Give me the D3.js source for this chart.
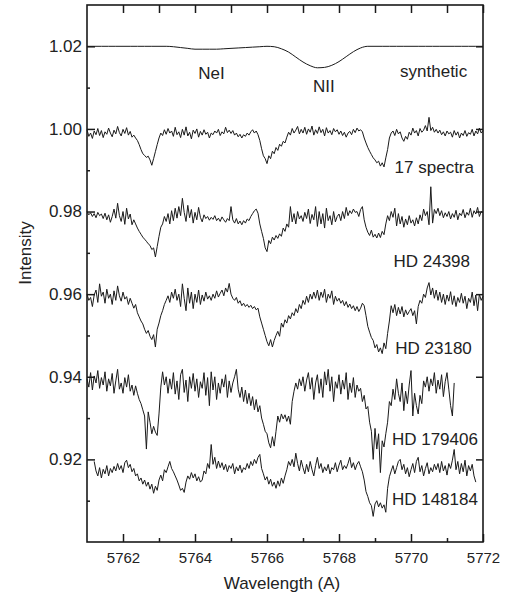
<!DOCTYPE html>
<html>
<head>
<meta charset="utf-8">
<script src="https://cdn.jsdelivr.net/npm/d3@7"></script>
<style>
  body { margin: 0; background: #fff; }
  text { font-family: "Liberation Sans", Arial, sans-serif; fill: #222; }
</style>
</head>
<body>
<div id="chart"></div>
<script>
// ---- data ----
const xTicks = [5762, 5764, 5766, 5768, 5770, 5772];
const xMinorTicks = [5763, 5765, 5767, 5769, 5771];
const yTicks = [0.92, 0.94, 0.96, 0.98, 1.0, 1.02];
const yMinorTicks = [0.91, 0.93, 0.95, 0.97, 0.99, 1.01];

const traceNames = ["synthetic", "17 spectra", "HD 24398", "HD 23180", "HD 179406", "HD 148184"];
const lineNames = ["NeI", "NII"];

// wavelength grid of each trace: first point and spacing (A)
const traceStart = [5761.0, 5761.0, 5761.0, 5761.0, 5761.0, 5761.2];
const traceStep = [0.2, 0.05, 0.05, 0.05, 0.05, 0.05];

const synthetic = [
  1.0200, 1.0200, 1.0200, 1.0200, 1.0200, 1.0200, 1.0200, 1.0200, 1.0200, 1.0200,
  1.0200, 1.0200, 1.0199, 1.0197, 1.0195, 1.0193, 1.0193, 1.0193, 1.0193, 1.0194,
  1.0195, 1.0196, 1.0197, 1.0198, 1.0199, 1.0200, 1.0199, 1.0194, 1.0186, 1.0174,
  1.0162, 1.0153, 1.0148, 1.0149, 1.0154, 1.0163, 1.0175, 1.0187, 1.0196, 1.0200,
  1.0200, 1.0200, 1.0200, 1.0200, 1.0200, 1.0200, 1.0200, 1.0200, 1.0200, 1.0200,
  1.0200, 1.0200, 1.0200, 1.0200, 1.0200, 1.0200
];

const spectra17 = [
  0.9998, 0.9982, 0.9990, 0.9977, 0.9995, 0.9986, 1.0001, 0.9984, 0.9996, 0.9979,
  0.9993, 0.9987, 1.0002, 0.9990, 0.9981, 0.9997, 0.9988, 1.0006, 0.9991, 0.9983,
  0.9999, 0.9989, 1.0003, 0.9985, 0.9994, 0.9980, 0.9985, 0.9978, 0.9972, 0.9962,
  0.9950, 0.9940, 0.9936, 0.9931, 0.9934, 0.9925, 0.9912, 0.9928, 0.9945, 0.9962,
  0.9978, 0.9990, 0.9984, 0.9998, 0.9987, 1.0001, 0.9990, 0.9995, 0.9982, 1.0004,
  0.9986, 0.9993, 0.9979, 0.9999, 0.9985, 1.0005, 0.9983, 0.9992, 0.9976, 0.9997,
  0.9989, 1.0000, 0.9980, 0.9994, 0.9985, 0.9998, 0.9987, 0.9992, 0.9978, 0.9990,
  0.9986, 0.9995, 0.9990, 0.9999, 0.9984, 0.9993, 0.9988, 1.0004, 0.9991, 0.9997,
  0.9989, 0.9996, 0.9985, 0.9990, 0.9981, 0.9987, 0.9978, 0.9986, 0.9982, 0.9990,
  0.9985, 0.9993, 0.9998, 0.9990, 0.9995, 0.9986, 0.9972, 0.9952, 0.9935, 0.9928,
  0.9916, 0.9935, 0.9928, 0.9946, 0.9940, 0.9955, 0.9948, 0.9963, 0.9958, 0.9970,
  0.9966, 0.9980, 0.9992, 0.9985, 1.0001, 0.9990, 0.9997, 1.0006, 0.9988, 0.9999,
  0.9990, 1.0004, 0.9987, 1.0000, 0.9992, 1.0007, 0.9985, 0.9998, 0.9989, 1.0005,
  0.9991, 0.9999, 0.9983, 1.0003, 0.9990, 0.9996, 0.9986, 1.0001, 0.9993, 0.9998,
  0.9987, 0.9995, 0.9984, 0.9992, 0.9980, 0.9990, 0.9994, 0.9986, 0.9999, 0.9991,
  1.0002, 0.9995, 0.9998, 0.9993, 0.9978, 0.9966, 0.9955, 0.9946, 0.9938, 0.9930,
  0.9925, 0.9918, 0.9922, 0.9910, 0.9918, 0.9908, 0.9930, 0.9950, 0.9978, 0.9990,
  0.9995, 0.9984, 0.9999, 0.9988, 0.9993, 0.9978, 0.9970, 0.9982, 0.9975, 0.9992,
  0.9985, 1.0002, 0.9990, 0.9996, 0.9983, 1.0001, 0.9992, 0.9997, 1.0008, 0.9995,
  1.0028, 0.9996, 1.0004, 0.9992, 0.9999, 0.9990, 0.9997, 0.9986, 0.9993, 0.9983,
  0.9995, 0.9988, 0.9992, 0.9980, 0.9996, 0.9985, 0.9993, 0.9978, 0.9990, 0.9984,
  0.9996, 0.9982, 0.9991, 0.9987, 0.9999, 0.9983, 0.9995, 0.9988, 1.0002, 0.9990,
  0.9996
];

const hd24398 = [
  0.9800, 0.9792, 0.9797, 0.9788, 0.9795, 0.9785, 0.9798, 0.9790, 0.9794, 0.9783,
  0.9796, 0.9780, 0.9792, 0.9774, 0.9788, 0.9806, 0.9784, 0.9820, 0.9790, 0.9776,
  0.9800, 0.9769, 0.9808, 0.9782, 0.9794, 0.9768, 0.9780, 0.9770, 0.9760, 0.9752,
  0.9745, 0.9738, 0.9733, 0.9728, 0.9722, 0.9718, 0.9708, 0.9712, 0.9690, 0.9715,
  0.9740, 0.9762, 0.9770, 0.9788, 0.9776, 0.9795, 0.9770, 0.9802, 0.9778, 0.9808,
  0.9784, 0.9812, 0.9790, 0.9832, 0.9798, 0.9776, 0.9815, 0.9785, 0.9805, 0.9772,
  0.9798, 0.9780, 0.9810, 0.9786, 0.9775, 0.9792, 0.9783, 0.9788, 0.9779, 0.9786,
  0.9781, 0.9790, 0.9778, 0.9784, 0.9776, 0.9787, 0.9780, 0.9774, 0.9783, 0.9778,
  0.9812, 0.9780, 0.9772, 0.9783, 0.9770, 0.9777, 0.9768, 0.9778, 0.9772, 0.9782,
  0.9778, 0.9788, 0.9795, 0.9802, 0.9806, 0.9796, 0.9770, 0.9752, 0.9735, 0.9712,
  0.9703, 0.9730, 0.9722, 0.9738, 0.9731, 0.9742, 0.9735, 0.9746, 0.9740, 0.9760,
  0.9752, 0.9770, 0.9762, 0.9812, 0.9775, 0.9795, 0.9770, 0.9800, 0.9782, 0.9790,
  0.9776, 0.9798, 0.9783, 0.9806, 0.9771, 0.9793, 0.9780, 0.9812, 0.9764, 0.9800,
  0.9770, 0.9795, 0.9760, 0.9808, 0.9778, 0.9790, 0.9768, 0.9800, 0.9775, 0.9788,
  0.9794, 0.9778, 0.9800, 0.9783, 0.9810, 0.9790, 0.9802, 0.9795, 0.9806, 0.9798,
  0.9800, 0.9788, 0.9805, 0.9812, 0.9780, 0.9762, 0.9750, 0.9742, 0.9755, 0.9738,
  0.9745, 0.9736, 0.9748, 0.9737, 0.9752, 0.9744, 0.9770, 0.9790, 0.9778, 0.9800,
  0.9786, 0.9808, 0.9765, 0.9795, 0.9770, 0.9788, 0.9762, 0.9782, 0.9768, 0.9790,
  0.9772, 0.9780, 0.9765, 0.9785, 0.9770, 0.9792, 0.9778, 0.9806, 0.9790, 0.9800,
  0.9768, 0.9860, 0.9772, 0.9805, 0.9795, 0.9808, 0.9790, 0.9802, 0.9785, 0.9797,
  0.9788, 0.9800, 0.9782, 0.9795, 0.9786, 0.9803, 0.9780, 0.9796, 0.9790, 0.9805,
  0.9785, 0.9798, 0.9791, 0.9808, 0.9786, 0.9802, 0.9794, 0.9810, 0.9788, 0.9800,
  0.9798
];

const hd23180 = [
  0.9600, 0.9585, 0.9592, 0.9570, 0.9598, 0.9610, 0.9580, 0.9625, 0.9595, 0.9605,
  0.9578, 0.9612, 0.9590, 0.9600, 0.9575, 0.9608, 0.9585, 0.9620, 0.9596, 0.9583,
  0.9605, 0.9588, 0.9594, 0.9575, 0.9590, 0.9578, 0.9566, 0.9575, 0.9555, 0.9545,
  0.9535, 0.9528, 0.9515, 0.9505, 0.9512, 0.9498, 0.9490, 0.9502, 0.9472, 0.9515,
  0.9530, 0.9548, 0.9560, 0.9575, 0.9585, 0.9596, 0.9580, 0.9605, 0.9590, 0.9612,
  0.9585, 0.9600, 0.9570, 0.9625, 0.9590, 0.9560, 0.9615, 0.9578, 0.9605, 0.9565,
  0.9600, 0.9580, 0.9610, 0.9575, 0.9598, 0.9583, 0.9605, 0.9588, 0.9596, 0.9585,
  0.9600, 0.9590, 0.9608, 0.9593, 0.9602, 0.9610, 0.9596, 0.9615, 0.9605, 0.9626,
  0.9600, 0.9590, 0.9585, 0.9592, 0.9578, 0.9584, 0.9572, 0.9578, 0.9570, 0.9575,
  0.9568, 0.9573, 0.9565, 0.9570, 0.9562, 0.9566, 0.9545, 0.9530, 0.9515, 0.9500,
  0.9485, 0.9475, 0.9490, 0.9472, 0.9488, 0.9500, 0.9510, 0.9498, 0.9530, 0.9520,
  0.9538, 0.9530, 0.9548, 0.9540, 0.9555, 0.9548, 0.9565, 0.9555, 0.9575, 0.9565,
  0.9585, 0.9575, 0.9595, 0.9580, 0.9600, 0.9588, 0.9605, 0.9590, 0.9610, 0.9585,
  0.9605, 0.9592, 0.9612, 0.9580, 0.9600, 0.9590, 0.9608, 0.9575, 0.9595, 0.9583,
  0.9590, 0.9578, 0.9585, 0.9572, 0.9582, 0.9568, 0.9576, 0.9565, 0.9572, 0.9560,
  0.9570, 0.9558, 0.9566, 0.9578, 0.9572, 0.9548, 0.9522, 0.9508, 0.9495, 0.9488,
  0.9470, 0.9478, 0.9460, 0.9470, 0.9456, 0.9482, 0.9468, 0.9505, 0.9535, 0.9572,
  0.9555, 0.9575, 0.9548, 0.9568, 0.9552, 0.9570, 0.9545, 0.9562, 0.9550, 0.9558,
  0.9565, 0.9548, 0.9560, 0.9528, 0.9570, 0.9585, 0.9578, 0.9600, 0.9592, 0.9615,
  0.9628, 0.9598, 0.9615, 0.9590, 0.9610, 0.9585, 0.9605, 0.9580, 0.9600, 0.9575,
  0.9598, 0.9583, 0.9606, 0.9575, 0.9596, 0.9570, 0.9592, 0.9580, 0.9602, 0.9578,
  0.9595, 0.9565, 0.9590, 0.9580, 0.9605, 0.9572, 0.9598, 0.9560, 0.9600, 0.9585,
  0.9595
];

const hd179406 = [
  0.9395, 0.9375, 0.9410, 0.9368, 0.9402, 0.9385, 0.9415, 0.9372, 0.9398, 0.9380,
  0.9412, 0.9365, 0.9395, 0.9378, 0.9408, 0.9360, 0.9390, 0.9418, 0.9370, 0.9385,
  0.9360, 0.9398, 0.9375, 0.9405, 0.9365, 0.9380, 0.9355, 0.9378, 0.9360, 0.9345,
  0.9335, 0.9320, 0.9305, 0.9225, 0.9315, 0.9290, 0.9262, 0.9280, 0.9266, 0.9258,
  0.9310, 0.9375, 0.9412, 0.9380, 0.9400, 0.9360, 0.9395, 0.9370, 0.9410, 0.9358,
  0.9390, 0.9345, 0.9405, 0.9418, 0.9362, 0.9392, 0.9340, 0.9400, 0.9372, 0.9408,
  0.9365, 0.9395, 0.9350, 0.9388, 0.9372, 0.9410, 0.9355, 0.9398, 0.9330, 0.9412,
  0.9368, 0.9400, 0.9345, 0.9385, 0.9360, 0.9395, 0.9375, 0.9405, 0.9350, 0.9390,
  0.9362, 0.9385, 0.9400, 0.9418, 0.9370, 0.9350, 0.9375, 0.9340, 0.9368, 0.9335,
  0.9360, 0.9330, 0.9352, 0.9320, 0.9345, 0.9315, 0.9330, 0.9300, 0.9285, 0.9268,
  0.9262, 0.9240, 0.9228, 0.9255, 0.9232, 0.9268, 0.9305, 0.9290, 0.9310, 0.9298,
  0.9308, 0.9292, 0.9305, 0.9285, 0.9340, 0.9365, 0.9385, 0.9370, 0.9395, 0.9378,
  0.9400, 0.9365, 0.9392, 0.9410, 0.9370, 0.9398, 0.9345, 0.9385, 0.9405, 0.9360,
  0.9395, 0.9350, 0.9412, 0.9380, 0.9418, 0.9365, 0.9400, 0.9340, 0.9388, 0.9372,
  0.9405, 0.9358, 0.9392, 0.9370, 0.9410, 0.9345, 0.9385, 0.9362, 0.9398, 0.9350,
  0.9380, 0.9365, 0.9372, 0.9340, 0.9355, 0.9322, 0.9328, 0.9290, 0.9268, 0.9200,
  0.9275, 0.9225, 0.9262, 0.9168, 0.9245, 0.9230, 0.9262, 0.9290, 0.9340, 0.9330,
  0.9370, 0.9345, 0.9395, 0.9360, 0.9340, 0.9385, 0.9318, 0.9365, 0.9335, 0.9380,
  0.9415, 0.9305, 0.9360, 0.9330, 0.9310, 0.9355, 0.9335, 0.9390, 0.9375, 0.9400,
  0.9365, 0.9395, 0.9378, 0.9410, 0.9360, 0.9392, 0.9370, 0.9405, 0.9352, 0.9388,
  0.9410, 0.9370, 0.9330, 0.9305, 0.9385
];

const hd148184 = [
  0.9195, 0.9172, 0.9160, 0.9180, 0.9155, 0.9176, 0.9165, 0.9185, 0.9160, 0.9178,
  0.9168, 0.9183, 0.9172, 0.9190, 0.9175, 0.9185, 0.9168, 0.9192, 0.9198, 0.9180,
  0.9188, 0.9170, 0.9178, 0.9160, 0.9165, 0.9148, 0.9155, 0.9140, 0.9150, 0.9135,
  0.9145, 0.9128, 0.9140, 0.9118, 0.9135, 0.9125, 0.9150, 0.9162, 0.9148, 0.9175,
  0.9168, 0.9182, 0.9195, 0.9178, 0.9170, 0.9160, 0.9150, 0.9138, 0.9125, 0.9130,
  0.9120, 0.9145, 0.9160, 0.9152, 0.9168, 0.9155, 0.9165, 0.9148, 0.9158, 0.9145,
  0.9150, 0.9172, 0.9165, 0.9190, 0.9178, 0.9236, 0.9188, 0.9205, 0.9178, 0.9196,
  0.9180, 0.9192, 0.9175, 0.9188, 0.9170, 0.9185, 0.9178, 0.9190, 0.9165, 0.9182,
  0.9172, 0.9186, 0.9168, 0.9180, 0.9175, 0.9190, 0.9178, 0.9195, 0.9185, 0.9200,
  0.9190, 0.9205, 0.9212, 0.9178, 0.9165, 0.9150, 0.9158, 0.9140, 0.9152, 0.9135,
  0.9145, 0.9130, 0.9148, 0.9135, 0.9155, 0.9142, 0.9160, 0.9175, 0.9195, 0.9185,
  0.9200, 0.9182, 0.9215, 0.9190, 0.9172, 0.9198, 0.9180, 0.9165, 0.9188, 0.9170,
  0.9195, 0.9175, 0.9160, 0.9185, 0.9205, 0.9178, 0.9190, 0.9168, 0.9182, 0.9172,
  0.9188, 0.9165, 0.9180, 0.9175, 0.9192, 0.9170, 0.9186, 0.9198, 0.9175, 0.9185,
  0.9178, 0.9190, 0.9205, 0.9180, 0.9192, 0.9175, 0.9188, 0.9195, 0.9182, 0.9170,
  0.9150, 0.9122, 0.9110, 0.9095, 0.9088, 0.9062, 0.9092, 0.9100, 0.9085, 0.9095,
  0.9082, 0.9090, 0.9072, 0.9130, 0.9158, 0.9172, 0.9185, 0.9165, 0.9180, 0.9195,
  0.9200, 0.9175, 0.9188, 0.9165, 0.9180, 0.9158, 0.9175, 0.9190, 0.9168, 0.9195,
  0.9205, 0.9170, 0.9185, 0.9160, 0.9178, 0.9192, 0.9165, 0.9180, 0.9170, 0.9188,
  0.9175, 0.9190, 0.9168, 0.9195, 0.9172, 0.9185, 0.9162, 0.9190, 0.9178, 0.9198,
  0.9224, 0.9175, 0.9195, 0.9165, 0.9190, 0.9170, 0.9198, 0.9160, 0.9185, 0.9172,
  0.9188, 0.9160, 0.9145
];

const traces = [synthetic, spectra17, hd24398, hd23180, hd179406, hd148184];

// ---- layout ----
const width = 511, height = 601;
const margin = { top: 5, right: 28, bottom: 59, left: 87 };
const w = width - margin.left - margin.right;
const h = height - margin.top - margin.bottom;

// label anchors in data units [wavelength, intensity]
const traceLabelAt = [
  [5771.56, 1.0126], [5771.75, 0.9893], [5771.64, 0.9666],
  [5771.69, 0.9455], [5771.86, 0.9235], [5771.86, 0.9090]
];
const lineLabelAt = [[5764.46, 1.0121], [5767.58, 1.0089]];

const svg = d3.select("#chart").append("svg")
  .attr("width", width)
  .attr("height", height);

const g = svg.append("g").attr("transform", `translate(${margin.left},${margin.top})`);

const x = d3.scaleLinear().domain([5761, 5772]).range([0, w]);
const y = d3.scaleLinear().domain([0.9, 1.03]).range([h, 0]);

// spectra
traces.forEach((vals, k) => {
  const line = d3.line()
    .x((d, i) => x(traceStart[k] + i * traceStep[k]))
    .y(d => y(d));
  if (k === 0) line.curve(d3.curveMonotoneX);
  g.append("path")
    .datum(vals)
    .attr("fill", "none")
    .attr("stroke", "#1a1a1a")
    .attr("stroke-width", 1)
    .attr("stroke-linejoin", "round")
    .attr("d", line);
});

// labels
g.selectAll(".trace-label")
  .data(traceNames)
  .enter()
  .append("text")
  .attr("class", "trace-label")
  .attr("x", (d, i) => x(traceLabelAt[i][0]))
  .attr("y", (d, i) => y(traceLabelAt[i][1]))
  .attr("text-anchor", "end")
  .style("font-size", "17px")
  .text(d => d);

g.selectAll(".line-label")
  .data(lineNames)
  .enter()
  .append("text")
  .attr("class", "line-label")
  .attr("x", (d, i) => x(lineLabelAt[i][0]))
  .attr("y", (d, i) => y(lineLabelAt[i][1]))
  .attr("text-anchor", "middle")
  .style("font-size", "17px")
  .text(d => d);

// axes, ticks pointing inward
function styleAxis(sel) {
  sel.select(".domain").remove();
  sel.selectAll(".tick line").attr("stroke", "#1a1a1a").attr("stroke-width", 1.5);
}

g.append("g")
  .attr("transform", `translate(0,${h})`)
  .call(d3.axisBottom(x).tickValues(xTicks).tickSize(-8).tickPadding(10).tickFormat(d3.format("d")))
  .call(styleAxis)
  .selectAll("text").style("font-size", "15px").attr("fill", "#222");

g.append("g")
  .attr("transform", `translate(0,${h})`)
  .call(d3.axisBottom(x).tickValues(xMinorTicks).tickSize(-4).tickFormat(""))
  .call(styleAxis);

g.append("g")
  .call(d3.axisTop(x).tickValues(xTicks.concat(xMinorTicks)).tickSize(-8).tickFormat(""))
  .call(styleAxis);

g.append("g")
  .call(d3.axisLeft(y).tickValues(yTicks).tickSize(-8).tickPadding(5).tickFormat(d3.format(".2f")))
  .call(styleAxis)
  .selectAll("text").style("font-size", "17px").attr("fill", "#222");

g.append("g")
  .call(d3.axisLeft(y).tickValues(yMinorTicks).tickSize(-3).tickFormat(""))
  .call(styleAxis);

g.append("g")
  .attr("transform", `translate(${w},0)`)
  .call(d3.axisRight(y).tickValues(yTicks).tickSize(-7).tickFormat(""))
  .call(styleAxis);

// frame
g.append("rect")
  .attr("width", w)
  .attr("height", h)
  .attr("fill", "none")
  .attr("stroke", "#1a1a1a")
  .attr("stroke-width", 1.6);

// axis titles
svg.append("text")
  .attr("x", 282)
  .attr("y", 589)
  .attr("text-anchor", "middle")
  .style("font-size", "17px")
  .text("Wavelength (A)");

svg.append("text")
  .attr("transform", "translate(31,253) rotate(-90)")
  .attr("text-anchor", "middle")
  .style("font-size", "17px")
  .text("Intensity");
</script>
</body>
</html>
